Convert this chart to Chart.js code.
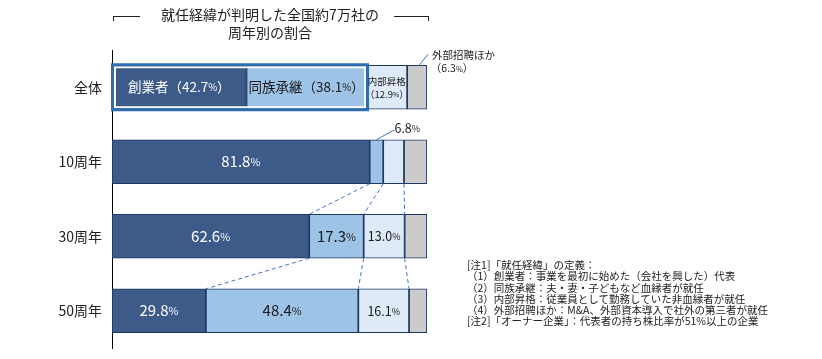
<!DOCTYPE html>
<html lang="ja">
<head>
<meta charset="utf-8">
<script src="https://cdn.jsdelivr.net/npm/chart.js@4"></script>
<style>
body{margin:0;background:#fff;font-family:"Noto Sans CJK JP",sans-serif;color:#222;}
#wrap{position:relative;width:822px;height:359px;overflow:hidden;}
#c{position:absolute;left:0;top:0;}
#title{position:absolute;left:140px;width:260px;top:5px;text-align:center;font-size:14px;line-height:18px;}
.brk{position:absolute;top:16px;height:4px;border-top:1px solid #222;}
#brkL{left:113px;width:26px;border-left:1px solid #222;}
#brkR{left:394px;width:34px;border-right:1px solid #222;}
#notes{position:absolute;left:467px;top:259px;font-size:10.5px;line-height:11.3px;white-space:pre;color:#222;}
</style>
</head>
<body>
<div id="wrap">
<canvas id="c" width="822" height="359"></canvas>
<div class="brk" id="brkL"></div>
<div class="brk" id="brkR"></div>
<div id="title">就任経緯が判明した全国約7万社の<br>周年別の割合</div>
<div id="notes"></div>
</div>
<script>
const categories = ["全体", "10周年", "30周年", "50周年"];
const founder  = [42.7, 81.8, 62.6, 29.8];
const family   = [38.1, 4.3, 17.3, 48.4];
const internal = [12.9, 6.6, 13.0, 16.1];
const external = [6.3, 7.3, 7.1, 5.7];

// texts as printed on the chart
const founderLabels  = ["創業者（42.7%）", "81.8%", "62.6%", "29.8%"];
const familyLabels   = ["同族承継（38.1%）", "6.8%", "17.3%", "48.4%"];
const internalLabels = ["内部昇格\n（12.9%）", "", "13.0%", "16.1%"];
const externalLabels = ["外部招聘ほか\n（6.3%）", "", "", ""];

const notes = [
"[注1]「就任経緯」の定義：",
"（1）創業者：事業を最初に始めた（会社を興した）代表",
"（2）同族承継：夫・妻・子どもなど血縁者が就任",
"（3）内部昇格：従業員として勤務していた非血縁者が就任",
"（4）外部招聘ほか：M&A、外部資本導入で社外の第三者が就任",
"[注2]「オーナー企業」：代表者の持ち株比率が51%以上の企業"
];
document.getElementById("notes").textContent = notes.join("\n");

const FONT = '"Noto Sans CJK JP", sans-serif';
const colors = ["#3C5B89", "#9DC3E6", "#DEEAF7", "#CBCBCB"];

// draw text with a smaller "%" sign, centred on x
function drawPct(ctx, text, x, y, size, color, align){
  const parts = text.split(/(%)/).filter(p => p !== "");
  let w = 0;
  parts.forEach(p => {
    ctx.font = (p === "%" ? size * 0.72 : size) + "px " + FONT;
    w += ctx.measureText(p).width;
  });
  let cx = align === "left" ? x : x - w / 2;
  ctx.fillStyle = color;
  ctx.textAlign = "left";
  ctx.textBaseline = "middle";
  parts.forEach(p => {
    const s = p === "%" ? size * 0.72 : size;
    ctx.font = s + "px " + FONT;
    ctx.fillText(p, cx, y + (p === "%" ? 0.5 : 0));
    cx += ctx.measureText(p).width;
  });
}

const overlay = {
  id: "overlay",
  afterDatasetsDraw(chart){
    const ctx = chart.ctx;
    const el = (d, i) => chart.getDatasetMeta(d).data[i];
    ctx.save();

    // dashed connectors between 10/30/50 bars
    ctx.strokeStyle = "#4472C4";
    ctx.lineWidth = 1;
    ctx.setLineDash([4, 3]);
    for (let r = 1; r < 3; r++){
      for (let k = 0; k < 3; k++){
        const a = el(k, r), b = el(k, r + 1);
        ctx.beginPath();
        ctx.moveTo(a.x, a.y + a.height / 2);
        ctx.lineTo(b.x, b.y - b.height / 2);
        ctx.stroke();
      }
    }
    ctx.setLineDash([]);

    // highlight frame on 全体 (創業者 + 同族承継)
    const f0 = el(0, 0), f1 = el(1, 0);
    const x0 = f0.base, x1 = f1.x, y0 = f0.y - f0.height / 2, y1 = f0.y + f0.height / 2;
    ctx.strokeStyle = "#fff";
    ctx.lineWidth = 2;
    ctx.strokeRect(x0 + 3, y0 + 2, (x1 - 1.5) - (x0 + 3), (y1 - 2) - (y0 + 2));
    ctx.strokeStyle = "#2F6DB0";
    ctx.lineWidth = 3;
    ctx.strokeRect(x0 + 0.5, y0 - 0.5, (x1 + 1) - (x0 + 0.5), (y1 + 0.5) - (y0 - 0.5));

    const mid = e => (e.x + e.base) / 2;
    const dark = "#1a1a1a";

    // 創業者
    founderLabels.forEach((t, i) => {
      const e = el(0, i);
      drawPct(ctx, t, mid(e), e.y, i === 0 ? 13.5 : 15, "#fff");
    });
    // 同族承継
    familyLabels.forEach((t, i) => {
      const e = el(1, i);
      if (i === 1){
        const cx = mid(e), top = e.y - e.height / 2;
        ctx.strokeStyle = "#4472C4";
        ctx.lineWidth = 1;
        ctx.beginPath();
        ctx.moveTo(cx, top);
        ctx.lineTo(cx + 18, top - 10);
        ctx.stroke();
        drawPct(ctx, t, cx + 18, top - 12, 12.5, dark, "left");
      } else {
        drawPct(ctx, t, mid(e), e.y, i === 0 ? 13.5 : 15, dark);
      }
    });
    // 内部昇格
    internalLabels.forEach((t, i) => {
      if (!t) return;
      const e = el(2, i);
      if (t.includes("\n")){
        const ls = t.split("\n");
        drawPct(ctx, ls[0], mid(e), e.y - 6, 9.5, dark);
        drawPct(ctx, ls[1], mid(e), e.y + 7, 9.5, dark);
      } else {
        drawPct(ctx, t, mid(e), e.y, 12.5, dark);
      }
    });
    // 外部招聘ほか
    externalLabels.forEach((t, i) => {
      if (!t) return;
      const e = el(3, i);
      const cx = mid(e), top = e.y - e.height / 2;
      ctx.strokeStyle = "#4472C4";
      ctx.lineWidth = 1;
      ctx.beginPath();
      ctx.moveTo(cx + 1, top + 1);
      ctx.lineTo(cx + 11, top - 11);
      ctx.stroke();
      const ls = t.split("\n");
      drawPct(ctx, ls[0], cx + 15, top - 10, 10.5, dark, "left");
      drawPct(ctx, ls[1], cx + 35, top + 3, 10.5, dark);
    });

    ctx.restore();
  }
};

const series = [founder, family, internal, external];
new Chart(document.getElementById("c"), {
  type: "bar",
  data: {
    labels: categories,
    datasets: series.map((d, k) => ({
      label: ["創業者", "同族承継", "内部昇格", "外部招聘ほか"][k],
      data: d,
      backgroundColor: colors[k],
      borderColor: "#1F3864",
      borderWidth: 1.2,
      borderSkipped: false,
      barThickness: 44
    }))
  },
  options: {
    indexAxis: "y",
    responsive: false,
    animation: false,
    layout: { padding: { top: 50, bottom: 11, left: 0, right: 395 } },
    plugins: { legend: { display: false }, tooltip: { enabled: false } },
    scales: {
      x: { stacked: true, min: 0, max: 100, display: false },
      y: {
        stacked: true,
        afterFit(scale){
          scale.width = 112;
          scale.paddingTop = 0;
          scale.paddingBottom = 0;
        },
        grid: { display: true, drawOnChartArea: false, drawTicks: false },
        border: { display: true, color: "#000", width: 1 },
        ticks: { padding: 10, color: "#222", font: { family: FONT, size: 14 } }
      }
    }
  },
  plugins: [overlay]
});
</script>
</body>
</html>
